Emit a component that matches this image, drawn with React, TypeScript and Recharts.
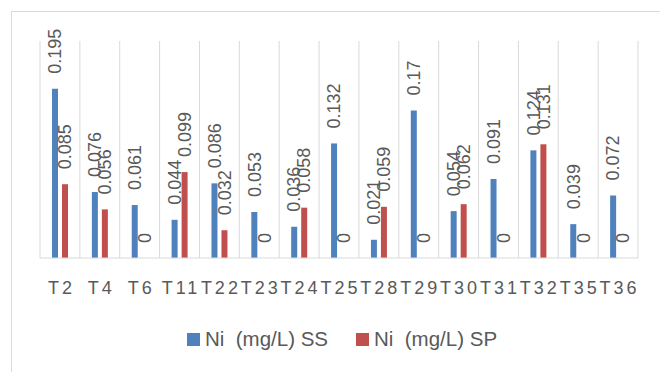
import { BarChart, Bar, XAxis, YAxis, CartesianGrid, LabelList } from "recharts";

// categorías y valores de Ni (mg/L)
const categories = ["T2", "T4", "T6", "T11", "T22", "T23", "T24", "T25", "T28", "T29", "T30", "T31", "T32", "T35", "T36"];
const ssValues = [0.195, 0.076, 0.061, 0.044, 0.086, 0.053, 0.036, 0.132, 0.021, 0.17, 0.054, 0.091, 0.124, 0.039, 0.072];
const spValues = [0.085, 0.056, 0, 0.099, 0.032, 0, 0.058, 0, 0.059, 0, 0.062, 0, 0.131, 0, 0];
const seriesNames = ["Ni  (mg/L) SS", "Ni  (mg/L) SP"];

const BLUE = "#4F81BD";
const RED = "#C0504D";
const TEXT = "#595959";
const GRID = "#D9D9D9";
const FONT = "'Liberation Sans', Arial, sans-serif";

const data = categories.map((name, i) => ({ name, ss: ssValues[i], sp: spValues[i] }));

const ValueLabel = (props: any) => {
  const { x, y, width, value } = props;
  const cx = Number(x) + Number(width) / 2;
  const ty = Number(y) - 15;
  return (
    <text
      x={cx}
      y={ty}
      dy="0.35em"
      transform={`rotate(-90 ${cx} ${ty})`}
      textAnchor="start"
      fill={TEXT}
      fontSize={18}
      fontFamily={FONT}
    >
      {String(value)}
    </text>
  );
};

const CategoryTick = (props: any) => {
  const { x, y, payload } = props;
  return (
    <text x={x + 1.5} y={y} dy={28} textAnchor="middle" fill={TEXT} fontSize={18} fontFamily={FONT} letterSpacing={3}>
      {payload.value}
    </text>
  );
};

export default function App() {
  return (
    <div style={{ position: "fixed", left: 0, top: 0, width: 660, height: 372, overflow: "hidden", background: "#fff" }}>
      <div style={{ position: "absolute", left: 11, top: 11, width: 700, height: 400, border: `1px solid ${GRID}` }} />
      <div style={{ position: "absolute", left: 0, top: 0 }}>
        <BarChart
          width={660}
          height={300}
          data={data}
          margin={{ top: 41, right: 22, left: 40, bottom: 2 }}
          barSize={6}
          barGap={4}
        >
          <CartesianGrid
            horizontal={false}
            stroke={GRID}
            verticalCoordinatesGenerator={({ offset }: any) =>
              categories.map((_, i) => offset.left + (i * offset.width) / categories.length).concat(offset.left + offset.width)
            }
          />
          <XAxis dataKey="name" interval={0} tickLine={false} axisLine={{ stroke: GRID }} height={40} tick={<CategoryTick />} />
          <YAxis hide domain={[0, 0.25]} />
          <Bar dataKey="ss" fill={BLUE} minPointSize={0.01} isAnimationActive={false}>
            <LabelList dataKey={(d: any) => String(d.ss)} content={<ValueLabel />} />
          </Bar>
          <Bar dataKey="sp" fill={RED} minPointSize={0.01} isAnimationActive={false}>
            <LabelList dataKey={(d: any) => String(d.sp)} content={<ValueLabel />} />
          </Bar>
        </BarChart>
      </div>
      <div
        style={{
          position: "absolute",
          left: 187,
          top: 327,
          display: "flex",
          alignItems: "center",
          fontFamily: FONT,
          fontSize: 20.5,
          color: TEXT,
          whiteSpace: "pre",
        }}
      >
        {seriesNames.map((name, i) => (
          <div key={name} style={{ display: "flex", alignItems: "center", marginRight: i === 0 ? 28 : 0 }}>
            <span style={{ width: 13, height: 13, background: i === 0 ? BLUE : RED, marginRight: 5 }} />
            <span>{name}</span>
          </div>
        ))}
      </div>
    </div>
  );
}
